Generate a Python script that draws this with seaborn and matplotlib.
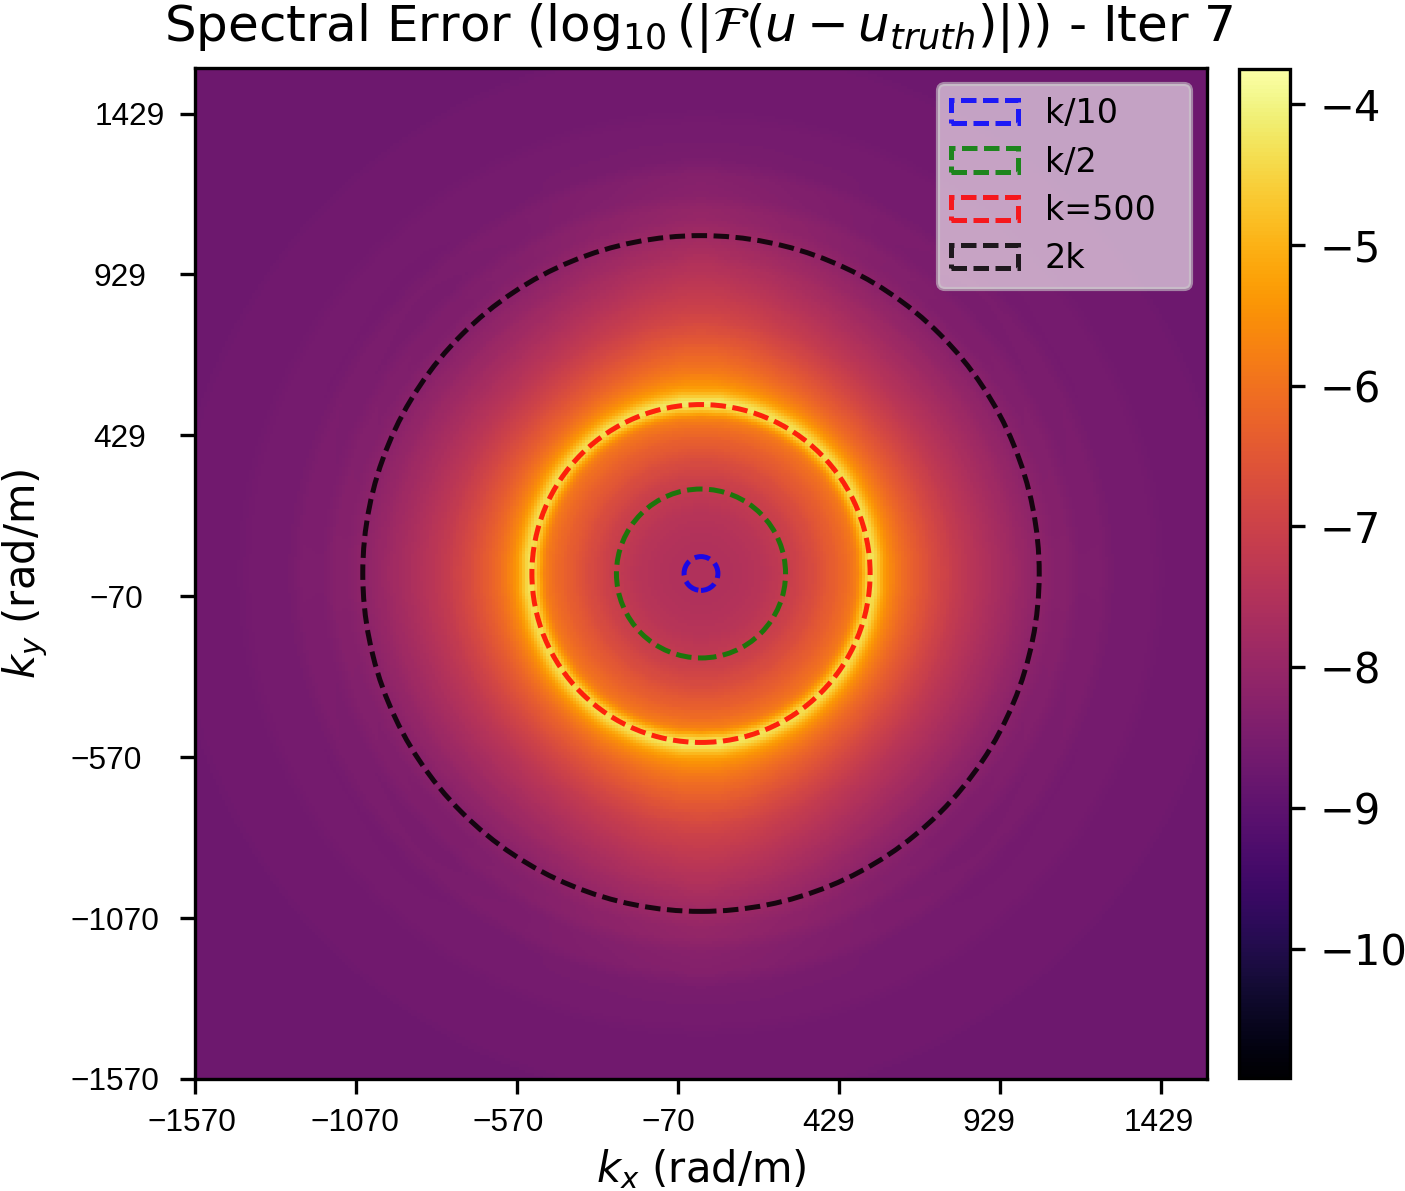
import numpy as np
import pandas as pd
import seaborn as sns
import matplotlib
matplotlib.use("Agg")
import matplotlib.pyplot as plt
from matplotlib.patches import Circle
from matplotlib.transforms import Affine2D

# Wavenumber range and reference wavenumber (rad/m)
K_MAX = 1570.8
K_REF = 525.0
CELLS = 337

# Circle radii as fractions of the reference wavenumber, with legend text and colours
CIRCLE_FRACTIONS = [0.1, 0.5, 1.0, 2.0]
CIRCLE_NAMES = ["k/10", "k/2", "k=500", "2k"]
CIRCLE_COLORS = ["blue", "green", "red", "black"]

# Azimuthally averaged log10 spectral error: outer edge of each band (in units of K_REF) and its level
BAND_EDGES = [0.10, 0.20, 0.30, 0.40, 0.50, 0.60, 0.70, 0.78, 0.84, 0.90, 0.94, 0.96, 0.975,
              0.99, 1.02, 1.04, 1.06, 1.08, 1.11, 1.14, 1.18, 1.22, 1.27, 1.32, 1.38,
              1.44, 1.50, 1.58, 1.66, 1.75, 1.85, 1.95, 2.05, 2.20, 2.40, 2.70, 3.10, 4.50]
BAND_LEVELS = [-7.55, -7.55, -7.50, -7.42, -7.28, -7.05, -6.78, -6.48, -6.28, -6.05, -5.80, -5.45, -4.90,
               -4.35, -4.00, -4.35, -4.85, -5.15, -5.45, -5.68, -5.90, -6.10, -6.30, -6.48, -6.68,
               -6.88, -7.05, -7.25, -7.42, -7.60, -7.78, -7.98, -8.15, -8.30, -8.45, -8.58, -8.66, -8.72]

# Directional offset added between the ring and the outer field, one value per 15 degree sector
SECTOR_OFFSETS = [0.00, -0.05, -0.10, -0.15, -0.05, 0.15, 0.35, 0.15, -0.05, -0.15, -0.10, -0.05,
                  0.00, -0.05, -0.10, -0.15, -0.05, 0.15, 0.32, 0.15, -0.05, -0.15, -0.10, -0.05]

# Tick positions and labels; per-label pixel placement of the tick text
TICK_VALUES = [-1570.8, -1070.8, -570.8, -70.8, 429.2, 929.2, 1429.2]
TICK_LABELS = ["\u22121570", "\u22121070", "\u2212570", "\u221270", "429", "929", "1429"]
YLABEL_LEFT_PX = [70, 70, 70, 89, 93, 93, 95]
XLABEL_SHIFT_PX = [-3, -1, -9, -10, -11, -11, -3]

COLOR_MIN = -10.92
COLOR_MAX = -3.75
COLOR_TICKS = [-10, -9, -8, -7, -6, -5, -4]

FIG_W, FIG_H, DPI = 1405, 1191, 300


def to_cell(k):
    """Convert a wavenumber to heatmap cell coordinates."""
    return (np.asarray(k) + K_MAX) / (2 * K_MAX) * CELLS


def box_smooth(values, width):
    """Separable running mean with edge padding."""
    kernel = np.ones(width) / width
    padded = np.pad(values, width // 2, mode="edge")
    rows = np.apply_along_axis(lambda r: np.convolve(r, kernel, mode="valid"), 1, padded)
    return np.apply_along_axis(lambda c: np.convolve(c, kernel, mode="valid"), 0, rows)


# Build the error field on the cell grid from the band and sector tables
centers = (np.arange(CELLS) + 0.5) / CELLS * 2 * K_MAX - K_MAX
kx, ky = np.meshgrid(centers, centers)
radius = np.hypot(kx, ky) / K_REF
band = np.clip(np.searchsorted(BAND_EDGES, radius), 0, len(BAND_LEVELS) - 1)
angle = np.degrees(np.arctan2(ky, kx)) % 360
sector = ((angle + 7.5) // 15).astype(int) % 24
levels = box_smooth(np.asarray(BAND_LEVELS)[band], 5)
directional = np.asarray(SECTOR_OFFSETS)[sector] * ((radius > 1.05) & (radius < 2.3))
field = levels + box_smooth(directional, 31)
frame = pd.DataFrame(field, index=centers, columns=centers)

sns.set_style("ticks")
plt.rcParams["font.family"] = ["DejaVu Sans"]
plt.rcParams["mathtext.fontset"] = "dejavusans"
plt.rcParams["text.color"] = "black"
plt.rcParams["axes.labelcolor"] = "black"
plt.rcParams["xtick.color"] = "black"
plt.rcParams["ytick.color"] = "black"

fig = plt.figure(figsize=(FIG_W / DPI, FIG_H / DPI), dpi=DPI, facecolor="white")
ax = fig.add_axes([195 / FIG_W, 1 - 1079 / FIG_H, (1207 - 195) / FIG_W, (1079 - 68) / FIG_H])
cax = fig.add_axes([1239 / FIG_W, 1 - 1078 / FIG_H, (1290 - 1239) / FIG_W, (1078 - 69) / FIG_H])

sns.heatmap(frame, ax=ax, cbar_ax=cax, cmap="inferno", vmin=COLOR_MIN, vmax=COLOR_MAX,
            xticklabels=False, yticklabels=False, rasterized=True)
ax.set_xlim(0, CELLS)
ax.set_ylim(0, CELLS)

# Dashed reference circles
for fraction, name, color in zip(CIRCLE_FRACTIONS, CIRCLE_NAMES, CIRCLE_COLORS):
    ax.add_patch(Circle((to_cell(0.0), to_cell(0.0)), fraction * K_REF / (2 * K_MAX) * CELLS,
                        fill=False, edgecolor=color, linestyle=(0, (3.1, 1.3)), linewidth=1.2,
                        alpha=0.85, label=name))

# The legend box is stretched to a fixed width inside the upper right corner
ax.legend(loc="upper left", fontsize=8, framealpha=0.6, mode="expand", borderaxespad=0, labelspacing=0.46,
          bbox_to_anchor=((938 - 195) / 1012, 1 - (84 - 68) / 1011, (1191 - 938) / 1012, 0))

for spine in ax.spines.values():
    spine.set_visible(True)
    spine.set_linewidth(0.8)
    spine.set_color("black")

# Axis ticks use a narrower sans face than the rest of the figure
ax.set_xticks(to_cell(TICK_VALUES))
ax.set_yticks(to_cell(TICK_VALUES))
ax.set_xticklabels(TICK_LABELS, rotation=0, family="Liberation Sans", fontsize=7.6)
ax.set_yticklabels(TICK_LABELS, rotation=0, family="Liberation Sans", fontsize=7.6, ha="left")
ax.tick_params(axis="both", length=3.5, width=0.8, direction="out")
tick_end_px = 195 - 3.5 * DPI / 72 - 3.5 * DPI / 72
for label, left in zip(ax.get_yticklabels(), YLABEL_LEFT_PX):
    label.set_transform(label.get_transform() + Affine2D().translate(left - tick_end_px, 0))
for label, shift in zip(ax.get_xticklabels(), XLABEL_SHIFT_PX):
    label.set_transform(label.get_transform() + Affine2D().translate(shift, 0))

ax.set_xlabel(r"$k_x$ (rad/m)", fontsize=10, labelpad=2.2)
ax.set_ylabel(r"$k_y$ (rad/m)", fontsize=10)
ax.yaxis.set_label_coords(-0.143, 0.5)
ax.set_title(r"Spectral Error ($\log_{10}(|\mathcal{F}(u - u_{truth})|)$) - Iter 7", fontsize=12, pad=6.4, x=0.498)

# Colour bar with a visible outline and default-sized ticks
colorbar = ax.collections[0].colorbar
colorbar.outline.set_visible(True)
colorbar.outline.set_linewidth(0.8)
colorbar.outline.set_edgecolor("black")
colorbar.set_ticks(COLOR_TICKS)
colorbar.ax.tick_params(labelsize=10, length=3.5, width=0.8, right=True)

fig.savefig("out.png", dpi=DPI)
